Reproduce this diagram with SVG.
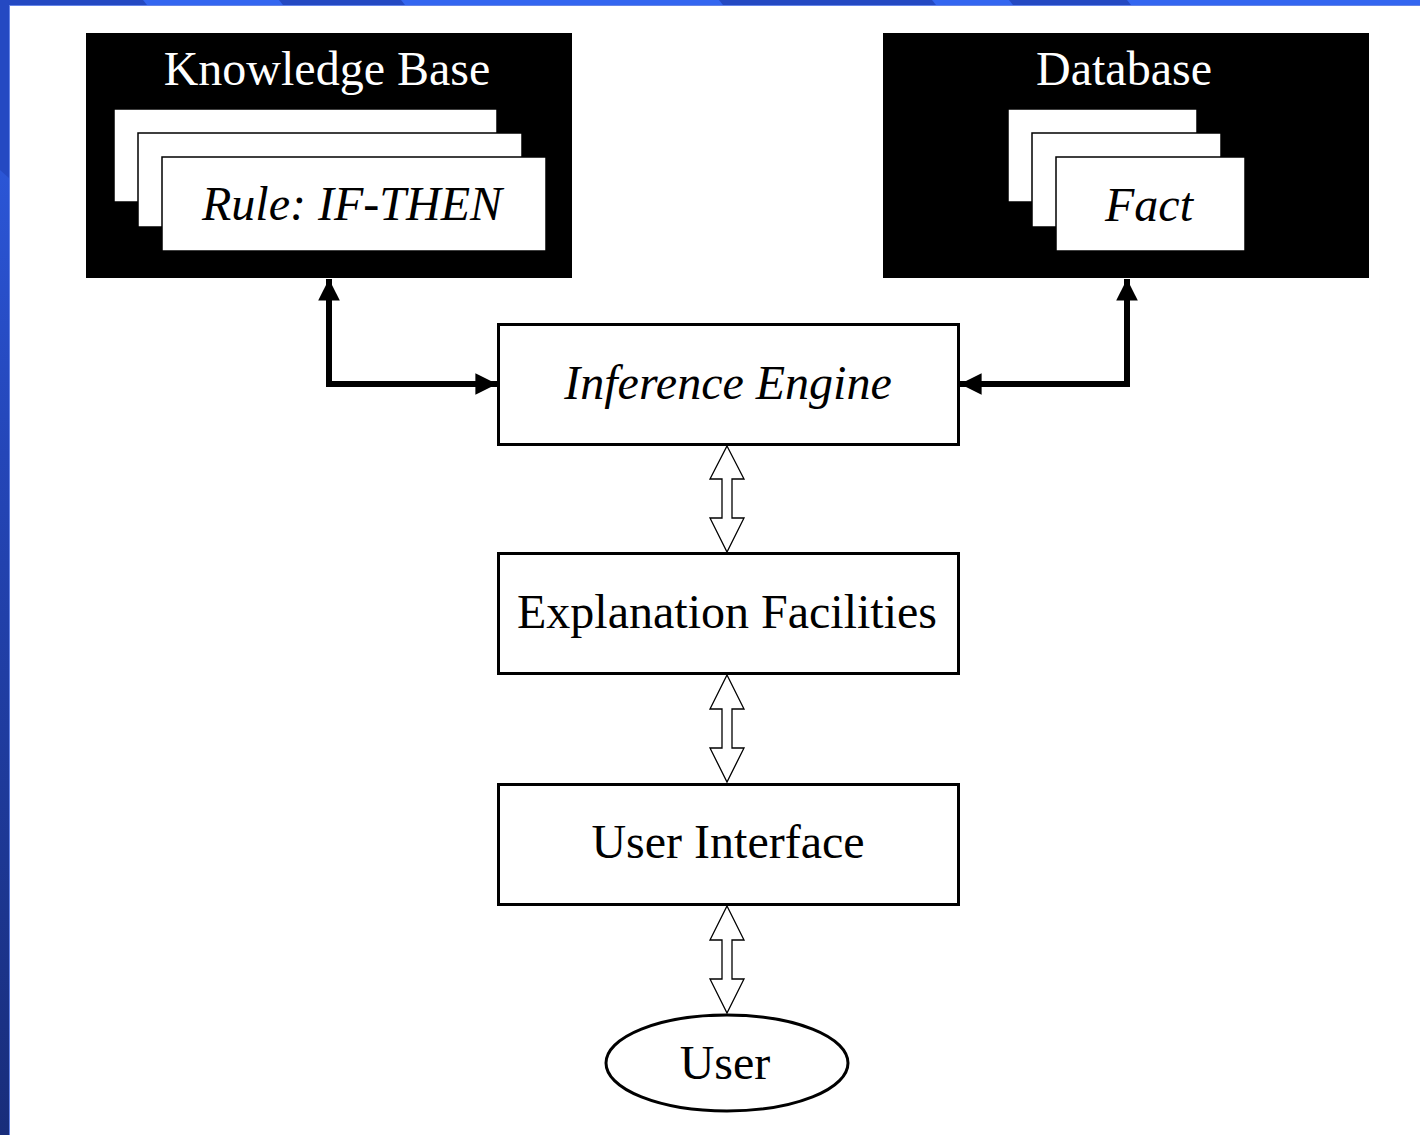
<svg xmlns="http://www.w3.org/2000/svg" width="1420" height="1135" viewBox="0 0 1420 1135">
  <defs>
    <linearGradient id="leftGrad" x1="0" y1="0" x2="0" y2="1">
      <stop offset="0" stop-color="#2f5fe8"/>
      <stop offset="0.4" stop-color="#2446b8"/>
      <stop offset="1" stop-color="#182d7a"/>
    </linearGradient>
    <marker id="ah" viewBox="0 0 10 10" refX="10" refY="5" markerWidth="3.8" markerHeight="3.6" markerUnits="strokeWidth" orient="auto">
      <path d="M0,0 L10,5 L0,10 z" fill="#000"/>
    </marker>
  </defs>
  <style>
    .t { font-family: "Liberation Serif", "Times New Roman", serif; font-size: 48px; text-anchor: middle; }
    .i { font-style: italic; }
    .w { fill: #fff; }
    .k { fill: #000; }
    .box { fill: #fff; stroke: #000; stroke-width: 3; }
    .page { fill: #fff; stroke: #000; stroke-width: 1.5; }
    .conn { fill: none; stroke: #000; stroke-width: 6; }
    .dbl { fill: #fff; stroke: #000; stroke-width: 1.3; }
  </style>

  <!-- background frame -->
  <rect x="0" y="0" width="1420" height="1135" fill="#fff"/>
  <g id="frame">
    <rect x="0" y="0" width="1420" height="5" fill="#3366f0"/>
    <polygon points="0,0 143,0 147,5 0,5" fill="#2449c2"/>
    <polygon points="279,0 401,0 405,5 283,5" fill="#2449c2"/>
    <polygon points="719,0 932,0 936,5 723,5" fill="#2449c2"/>
    <polygon points="1009,0 1127,0 1131,5 1013,5" fill="#2449c2"/>
    <rect x="0" y="0" width="9" height="1135" fill="url(#leftGrad)"/>
    <polygon points="0,0 9,0 9,178 0,170" fill="#2449c2"/>
    <line x1="9.5" y1="5" x2="9.5" y2="1135" stroke="#6585e8" stroke-width="1"/>
    <line x1="9" y1="5.5" x2="1420" y2="5.5" stroke="#6585e8" stroke-width="1"/>
  </g>

  <!-- connectors -->
  <g id="connectors">
    <path class="conn" d="M329,384 L329,279" marker-end="url(#ah)"/>
    <path class="conn" d="M326,384 L497,384" marker-end="url(#ah)"/>
    <path class="conn" d="M1127,384 L1127,279" marker-end="url(#ah)"/>
    <path class="conn" d="M1130,384 L960,384" marker-end="url(#ah)"/>
    <polygon class="dbl" points="727,446 744,479 732,479 732,518 744,518 727,552 710,518 722,518 722,479 710,479"/>
    <polygon class="dbl" points="727,675 744,709 732,709 732,748 744,748 727,782 710,748 722,748 722,709 710,709"/>
    <polygon class="dbl" points="727,906 744,940 732,940 732,979 744,979 727,1013 710,979 722,979 722,940 710,940"/>
  </g>

  <!-- Knowledge Base -->
  <g id="knowledge-base">
    <rect x="86" y="33" width="486" height="245" fill="#000"/>
    <text class="t w" x="327" y="85">Knowledge Base</text>
    <rect class="page" x="114" y="109" width="383" height="93"/>
    <rect class="page" x="138" y="133" width="384" height="94"/>
    <rect class="page" x="162" y="157" width="384" height="94"/>
    <text class="t i k" x="352" y="220">Rule: IF-THEN</text>
  </g>

  <!-- Database -->
  <g id="database">
    <rect x="883" y="33" width="486" height="245" fill="#000"/>
    <text class="t w" x="1124" y="85">Database</text>
    <rect class="page" x="1008" y="109" width="189" height="93"/>
    <rect class="page" x="1032" y="133" width="189" height="94"/>
    <rect class="page" x="1056" y="157" width="189" height="94"/>
    <text class="t i k" x="1149" y="221">Fact</text>
  </g>

  <!-- Inference Engine -->
  <g id="inference-engine">
    <rect class="box" x="498.5" y="324.5" width="460" height="120"/>
    <text class="t i k" x="728" y="399">Inference Engine</text>
  </g>

  <!-- Explanation Facilities -->
  <g id="explanation-facilities">
    <rect class="box" x="498.5" y="553.5" width="460" height="120"/>
    <text class="t k" x="727" y="628">Explanation Facilities</text>
  </g>

  <!-- User Interface -->
  <g id="user-interface">
    <rect class="box" x="498.5" y="784.5" width="460" height="120"/>
    <text class="t k" x="728" y="858">User Interface</text>
  </g>

  <!-- User -->
  <g id="user">
    <ellipse cx="727" cy="1063" rx="121" ry="48" fill="#fff" stroke="#000" stroke-width="3"/>
    <text class="t k" x="725" y="1079">User</text>
  </g>
</svg>
